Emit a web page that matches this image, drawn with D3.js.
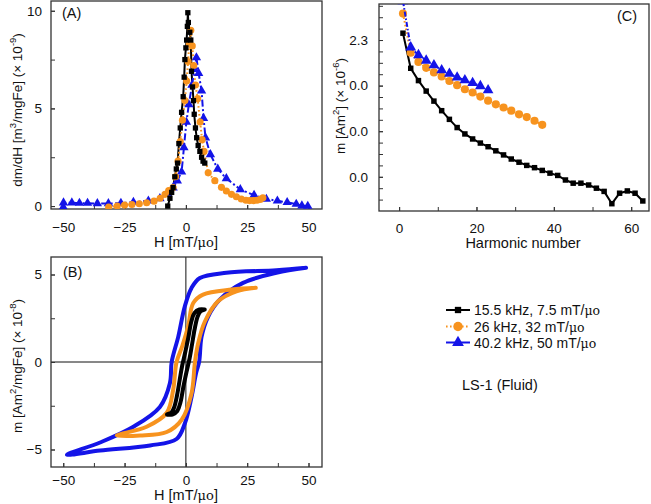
<!DOCTYPE html>
<html><head><meta charset="utf-8">
<script src="https://cdn.jsdelivr.net/npm/d3@7"></script>
<style>body{margin:0;background:#fff}svg{display:block;font-family:"Liberation Sans",Arial,sans-serif}</style>
</head><body><svg width="651" height="504"></svg>
<script>
// ---------- DATA ----------
const seriesNames = ["15.5 kHz, 7.5 mT/\u03bco", "26 kHz, 32 mT/\u03bco", "40.2 kHz, 50 mT/\u03bco"];
const seriesColors = ["#000000", "#f7931e", "#1414e8"];
const panelLabels = ["(A)", "(B)", "(C)"];
const sampleLabel = "LS-1 (Fluid)";

// Panel A: dm/dH vs H  [H, value]
const dmdhBlack = [[-7.4,0],[-6.5,0.4],[-5.8,0.7],[-5.2,0.95],[-4.5,1.5],[-3.9,1.9],[-3.4,2.2],[-2.85,3.2],[-2.3,4.0],[-1.75,4.8],[-1.1,5.6],[-0.7,6.6],[-0.4,7.5],[0.0,8.1],[0.3,8.5],[0.6,9.2],[0.8,9.9],[1.0,9.4],[1.6,8.9],[2.0,8.5],[2.3,6.9],[2.7,6.1],[3.1,5.4],[3.4,4.7],[3.9,4.0],[4.4,3.5],[5.0,3.1],[5.7,2.8],[6.4,2.5],[7.0,2.3],[7.7,2.2]];
const dmdhOrange = [[-31.5,-0.05],[-28,0.0],[-25,0.05],[-22,0.08],[-19,0.12],[-16,0.17],[-13,0.25],[-10.5,0.4],[-8.5,0.6],[-7,0.8],[-5.2,0.95],[-4.2,1.5],[-3.2,2.3],[-2.3,3.3],[-1.4,4.4],[-0.4,5.4],[0.3,6.4],[0.9,7.4],[1.4,8.3],[2.0,9.0],[2.6,8.2],[3.2,7.2],[3.9,6.2],[4.8,5.5],[5.8,4.3],[6.6,3.4],[7.4,2.8],[9.1,1.7],[11.8,1.3],[14.5,0.96],[16.5,0.77],[18.6,0.6],[20.6,0.48],[22.6,0.36],[24.5,0.3],[26,0.28],[27.5,0.28],[29,0.3],[30.3,0.34],[31.4,0.42]];
const dmdhBlue = [[-50,-0.05],[-49.9,0.17],[-46.5,0.17],[-43.4,0.15],[-40.1,0.15],[-36.1,0.13],[-31.6,0.13],[-26.5,0.15],[-21.4,0.2],[-15.3,0.27],[-10.6,0.39],[-7.5,0.6],[-5.2,0.94],[-3.5,1.3],[-1.75,1.75],[-0.8,3.0],[0.2,4.3],[1.2,5.2],[2.5,6.2],[3.5,7.0],[4.3,7.6],[5.2,6.8],[6.4,5.9],[7.2,4.5],[8,3.5],[10,2.64],[13,1.9],[16.5,1.41],[22.2,0.85],[27.8,0.56],[32.8,0.36],[37.3,0.27],[41.3,0.19],[45,0.1],[47.3,0.02],[49.7,0]];

// Panel B: hysteresis loops [H, m]
const loopBlack = [[7.7,3.0],[5.5,3.0],[3.5,2.8],[2.2,2.3],[1,1.4],[-0.2,0.6],[-1.5,-0.2],[-2.5,-1.0],[-3.6,-1.9],[-4.8,-2.6],[-6,-2.9],[-7.7,-3.0],[-5.5,-3.0],[-3.5,-2.8],[-2.2,-2.3],[-1,-1.4],[0.2,-0.6],[1.5,0.2],[2.5,1.0],[3.6,1.9],[4.8,2.6],[6,2.9],[7.7,3.0]];
const loopOrange = [[28.5,4.24],[18.6,4.14],[7,3.85],[3,3.37],[0.9,2.03],[-1.5,0.9],[-3.8,0],[-5.2,-1.6],[-7.8,-2.9],[-16,-3.7],[-28.2,-4.2],[-18.7,-4.2],[-7.8,-4.0],[-1.7,-3.3],[2.3,-1.8],[3.7,0],[5,1.07],[7.7,2.3],[13.1,3.47],[20.6,4.04],[28.5,4.24]];
const loopBlue = [[49,5.38],[36.9,5.24],[16.5,5.1],[5.7,4.8],[2.3,4.23],[-0.4,3.2],[-3.1,1.45],[-5.8,0],[-6.5,-1.2],[-10.6,-2.57],[-21.4,-3.7],[-35,-4.6],[-48.5,-5.3],[-35,-5.06],[-14.6,-4.77],[-3.8,-4.4],[-0.4,-3.5],[2.3,-2.0],[4.2,-0.6],[5.4,0],[6.4,1.45],[9.1,2.6],[13.8,3.56],[23.3,4.52],[36.9,5.1],[49,5.38]];

// Panel C: harmonic amplitudes (axis units; labelled levels below)
const harmBlack = [1,3,5,7,9,11,13,15,17,19,21,23,25,27,29,31,33,35,37,39,41,43,45,47,49,51,53,55,57,59,61,63];
const ampBlack = [3.15,2.38,2.11,1.88,1.66,1.45,1.26,1.08,0.94,0.83,0.74,0.66,0.57,0.48,0.39,0.32,0.25,0.20,0.14,0.08,0.03,-0.07,-0.14,-0.14,-0.18,-0.25,-0.32,-0.59,-0.36,-0.31,-0.36,-0.53];
const harmOrange = [1,3,5,7,9,11,13,15,17,19,21,23,25,27,29,31,33,35,37];
const ampOrange = [3.58,2.72,2.52,2.39,2.29,2.20,2.10,2.01,1.92,1.85,1.76,1.67,1.59,1.52,1.45,1.37,1.31,1.23,1.14];
const harmBlue = [1,3,5,7,9,11,13,15,17,19,21,23];
const ampBlue = [3.85,2.84,2.67,2.55,2.45,2.34,2.26,2.18,2.12,2.06,1.99,1.90];
const cTickValues = [0,1,2,3];
const cTickLabels = ["0.0","0.0","0.0","2.3"];

const hTicks = [-50,-25,0,25,50];
const aTicks = [0,5,10];
const bTicks = [-5,0,5];
const cXTicks = [0,20,40,60];

// ---------- DRAW ----------
const svg = d3.select("svg");
const FS = 13.5;
const TS = 14.5;
const frameColor = "#333";

function frame(x0,y0,x1,y1,id){
  svg.append("clipPath").attr("id",id).append("rect").attr("x",x0).attr("y",y0).attr("width",x1-x0).attr("height",y1-y0);
}
function drawAxes(x,y,opt){
  const [x0,x1] = x.range(), [y1,y0] = y.range();
  svg.append("g").attr("transform",`translate(0,${y1})`)
    .call(d3.axisBottom(x).tickValues(opt.xMinor).tickSize(-4).tickFormat(""))
    .call(g=>g.select(".domain").remove()).call(g=>g.selectAll("line").attr("stroke",frameColor));
  svg.append("g").attr("transform",`translate(${x0},0)`)
    .call(d3.axisLeft(y).tickValues(opt.yMinor).tickSize(-4).tickFormat(""))
    .call(g=>g.select(".domain").remove()).call(g=>g.selectAll("line").attr("stroke",frameColor));
  const gx = svg.append("g").attr("transform",`translate(0,${y1})`)
    .call(d3.axisBottom(x).tickValues(opt.xMajor).tickSize(-4).tickPadding(opt.xPad).tickFormat(opt.xFmt||d3.format("d")));
  gx.select(".domain").remove();
  gx.selectAll("line").attr("stroke",frameColor);
  gx.selectAll("text").attr("font-size",FS).attr("fill","#111").attr("font-family","Liberation Sans, Arial, sans-serif");
  const gy = svg.append("g").attr("transform",`translate(${x0},0)`)
    .call(d3.axisLeft(y).tickValues(opt.yMajor).tickSize(-4).tickPadding(opt.yPad).tickFormat(opt.yFmt||d3.format("d")));
  gy.select(".domain").remove();
  gy.selectAll("line").attr("stroke",frameColor);
  gy.selectAll("text").attr("font-size",FS).attr("fill","#111").attr("font-family","Liberation Sans, Arial, sans-serif");
  svg.append("rect").attr("x",x0).attr("y",y0).attr("width",x1-x0).attr("height",y1-y0)
    .attr("fill","none").attr("stroke",frameColor).attr("stroke-width",1.3);
}
function ytitle(cx,cy,parts){
  const t = svg.append("text").attr("transform",`translate(${cx},${cy}) rotate(-90)`)
    .attr("text-anchor","middle").attr("font-size",13.5).attr("fill","#111");
  parts.forEach(p=>{
    const s = t.append("tspan").text(p[0]);
    if(p[1]==="sup"){ s.attr("dy",-6).attr("font-size",9.5); }
    else if(p[1]==="back"){ s.attr("dy",6); }
  });
}
function htitle(cx,cy){
  const t = svg.append("text").attr("x",cx).attr("y",cy).attr("text-anchor","middle").attr("font-size",TS).attr("fill","#111");
  t.append("tspan").text("H [mT/");
  t.append("tspan").text("\u03bco").attr("font-family","DejaVu Serif, serif").attr("font-size",13);
  t.append("tspan").text("]");
}
const sq = d3.symbol().type(d3.symbolSquare).size(28);
const ci = d3.symbol().type(d3.symbolCircle).size(40);
const tr = d3.symbol().type(d3.symbolTriangle).size(38);
const symbols = [sq, ci, tr];
const dashes = [null, "1.6,2.4", "7,2.5,2,2.5"];

// ---- Panel A ----
const xA = d3.scaleLinear().domain([-55,55.5]).range([51,322]);
const yA = d3.scaleLinear().domain([-0.15,10.5]).range([209,1]);
frame(51,1,322,209,"clipA");
drawAxes(xA,yA,{xMinor:d3.range(-50,51,12.5),yMinor:d3.range(0,10.1,2.5),xMajor:hTicks,yMajor:aTicks,xPad:13,yPad:9});
const gA = svg.append("g").attr("clip-path","url(#clipA)");
[dmdhBlack, dmdhOrange, dmdhBlue].forEach((d,i)=>{
  gA.append("path").datum(d).attr("fill","none").attr("stroke",seriesColors[i]).attr("stroke-width",2)
    .attr("stroke-dasharray",dashes[i]).attr("d",d3.line().x(p=>xA(p[0])).y(p=>yA(p[1])));
});
[dmdhBlue, dmdhOrange, dmdhBlack].forEach((d,k)=>{
  const i = 2-k;
  gA.selectAll(null).data(d).enter().append("path")
    .attr("d",symbols[i]).attr("fill",seriesColors[i])
    .attr("transform",p=>`translate(${xA(p[0])},${yA(p[1])})`);
});
svg.append("text").attr("x",62).attr("y",18).attr("font-size",TS).attr("fill","#111").text(panelLabels[0]);
ytitle(22,110,[["dm/dH [m"],["3","sup"],["/mgFe] (\u00d7 10","back"],["-9","sup"],[")","back"]]);
htitle(186,247);

// ---- Panel B ----
const xB = d3.scaleLinear().domain([-55,55.5]).range([51,322]);
const yB = d3.scaleLinear().domain([-6,6]).range([467,257]);
frame(51,257,322,467,"clipB");
svg.append("line").attr("x1",xB(0)).attr("x2",xB(0)).attr("y1",257).attr("y2",467).attr("stroke","#111").attr("stroke-width",1);
svg.append("line").attr("x1",51).attr("x2",322).attr("y1",yB(0)).attr("y2",yB(0)).attr("stroke","#111").attr("stroke-width",1);
drawAxes(xB,yB,{xMinor:d3.range(-50,51,12.5),yMinor:d3.range(-5,5.1,2.5),xMajor:hTicks,yMajor:bTicks,xPad:8,yPad:9});
const gB = svg.append("g").attr("clip-path","url(#clipB)");
[loopBlue, loopOrange, loopBlack].forEach((d,k)=>{
  const i = 2-k;
  gB.append("path").datum(d).attr("fill","none").attr("stroke",seriesColors[i]).attr("stroke-width",4)
    .attr("stroke-linejoin","round").attr("stroke-linecap","round")
    .attr("d",d3.line().curve(d3.curveCatmullRom).x(p=>xB(p[0])).y(p=>yB(p[1])));
});
svg.append("text").attr("x",63).attr("y",277).attr("font-size",TS).attr("fill","#111").text(panelLabels[1]);
ytitle(22,366,[["m [Am"],["2","sup"],["/mgFe] (\u00d7 10","back"],["-8","sup"],[")","back"]]);
htitle(186,500);

// ---- Panel C ----
const xC = d3.scaleLinear().domain([-5.2,64.6]).range([379,649]);
const yC = d3.scaleLinear().domain([-0.75,3.79]).range([211,4]);
frame(379,4,649,211,"clipC");
drawAxes(xC,yC,{xMinor:d3.range(0,61,10),yMinor:d3.range(-0.5,3.76,0.25),xMajor:cXTicks,yMajor:cTickValues,xPad:12,yPad:11,
  yFmt:(d,i)=>cTickLabels[i]});
const gC = svg.append("g").attr("clip-path","url(#clipC)");
const cSeries = [[harmBlack,ampBlack],[harmOrange,ampOrange],[harmBlue,ampBlue]];
const cDash = [null,"1.6,2.2","5,2,1.5,2"];
const cSymbols = [d3.symbol().type(d3.symbolSquare).size(30), d3.symbol().type(d3.symbolCircle).size(52), d3.symbol().type(d3.symbolTriangle).size(50)];
cSeries.forEach((s,i)=>{
  const pts = s[0].map((h,j)=>[h,s[1][j]]);
  gC.append("path").datum(pts).attr("fill","none").attr("stroke",seriesColors[i]).attr("stroke-width",2)
    .attr("stroke-dasharray",cDash[i]).attr("d",d3.line().x(p=>xC(p[0])).y(p=>yC(p[1])));
  gC.selectAll(null).data(pts).enter().append("path")
    .attr("d",cSymbols[i]).attr("fill",seriesColors[i])
    .attr("transform",p=>`translate(${xC(p[0])},${yC(p[1])})`);
});
svg.append("text").attr("x",617).attr("y",21).attr("font-size",TS).attr("fill","#111").text(panelLabels[2]);
ytitle(345,106,[["m [Am"],["2","sup"],["] (\u00d7 10","back"],["-6","sup"],[")","back"]]);
svg.append("text").attr("x",523).attr("y",248).attr("text-anchor","middle").attr("font-size",TS).attr("fill","#111").text("Harmonic number");

// ---- Legend ----
const legY = [310,326.5,342.5];
seriesNames.forEach((n,i)=>{
  svg.append("line").attr("x1",446).attr("x2",470).attr("y1",legY[i]).attr("y2",legY[i])
    .attr("stroke",seriesColors[i]).attr("stroke-width",2).attr("stroke-dasharray",i===1?"1.6,2.4":null);
  svg.append("path").attr("d",d3.symbol().type([d3.symbolSquare,d3.symbolCircle,d3.symbolTriangle][i]).size([40,70,60][i]))
    .attr("fill",seriesColors[i]).attr("transform",`translate(458,${legY[i]})`);
  const t = svg.append("text").attr("x",474).attr("y",legY[i]+5).attr("font-size",14).attr("fill","#111");
  const parts = n.split("\u03bco");
  t.append("tspan").text(parts[0]);
  t.append("tspan").text("\u03bco").attr("font-family","DejaVu Serif, serif").attr("font-size",12.5);
});
svg.append("text").attr("x",462).attr("y",390).attr("font-size",14.5).attr("fill","#111").text(sampleLabel);
</script></body></html>
